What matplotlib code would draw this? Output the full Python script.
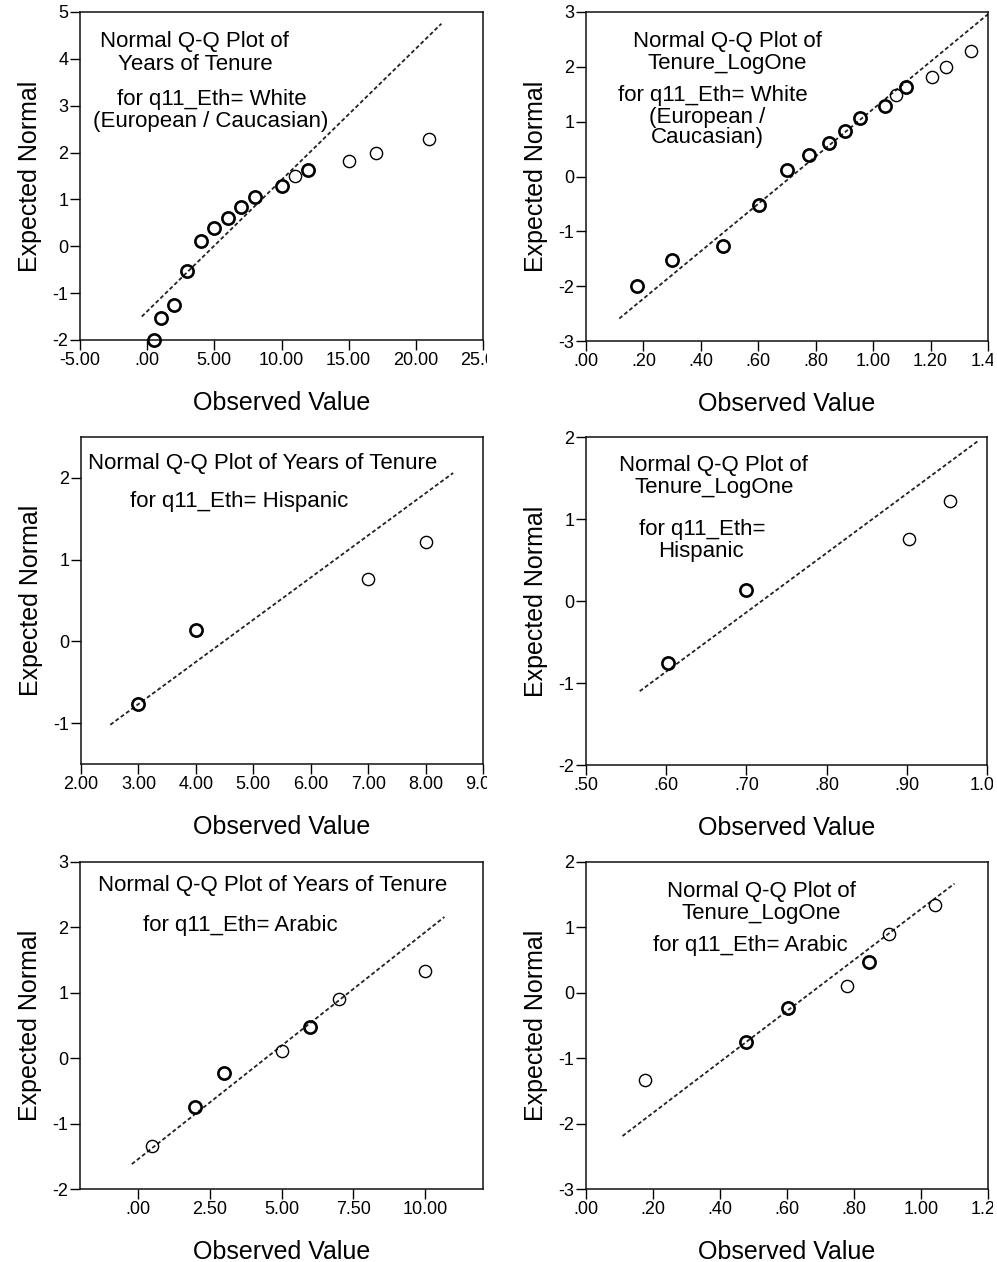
import numpy as np
import matplotlib as mpl
mpl.use('Agg')
from matplotlib import pyplot as plt
from matplotlib.ticker import MultipleLocator, FuncFormatter
from matplotlib.transforms import Bbox, TransformedBbox, IdentityTransform

plt.rcParams['font.family'] = ['Liberation Sans', 'DejaVu Sans']

# ---- data ----
# White (European / Caucasian)
white_years = [0.5, 1, 2, 3, 4, 5, 6, 7, 8, 10, 11, 12, 15, 17, 21]
white_log = [0.176, 0.301, 0.477, 0.602, 0.699, 0.778, 0.845, 0.903, 0.954,
             1.041, 1.079, 1.114, 1.204, 1.255, 1.342]
white_expected = [-2.0, -1.53, -1.26, -0.52, 0.11, 0.39, 0.61, 0.83, 1.06,
                  1.29, 1.49, 1.63, 1.82, 2.0, 2.28]
white_tied = [1, 1, 1, 1, 1, 1, 1, 1, 1, 1, 0, 1, 0, 0, 0]
white_years_line = ([-0.4, 21.9], [-1.5, 4.75])
white_log_line = ([0.116, 1.4], [-2.59, 2.96])

# Hispanic
hisp_years = [3, 4, 7, 8]
hisp_log = [0.602, 0.699, 0.903, 0.954]
hisp_expected = [-0.76, 0.14, 0.76, 1.22]
hisp_tied = [1, 1, 0, 0]
hisp_years_line = ([2.51, 8.48], [-1.02, 2.06])
hisp_log_line = ([0.567, 0.99], [-1.1, 1.96])

# Arabic
arab_years = [0.5, 2, 3, 5, 6, 7, 10]
arab_log = [0.176, 0.477, 0.602, 0.778, 0.845, 0.903, 1.041]
arab_expected = [-1.34, -0.75, -0.23, 0.11, 0.47, 0.90, 1.34]
arab_tied = [0, 1, 1, 0, 1, 0, 0]
arab_years_line = ([-0.2, 10.66], [-1.62, 2.16])
arab_log_line = ([0.109, 1.10], [-2.19, 1.67])

W, H = 997, 1262
fig = plt.figure(figsize=(W / 100, H / 100), dpi=100)


def spss_fmt(v, pos):
    v = round(v, 6)
    if abs(v) < 1e-9:
        v = 0.0
    s = '%.2f' % v
    if s.startswith('0.'):
        s = s[1:]
    elif s.startswith('-0.'):
        s = '-' + s[2:]
    return s


def make_axes(l, r, t, b):
    return fig.add_axes([l / W, 1 - b / H, (r - l) / W, (b - t) / H])


def qq_panel(box, x, y, tied, line, xlim, xstep, ylim, notes, clip_x):
    ax = make_axes(*box)
    ax.plot(line[0], line[1], color='#222222', lw=1.3, ls=(0, (2.2, 1.4)),
            zorder=2)
    for xi, yi, ti in zip(x, y, tied):
        ax.plot(xi, yi, 'o', mfc='none', mec='black', ms=8.8,
                mew=1.9 if ti else 1.0, zorder=3, clip_on=False)
    ax.set_xlim(*xlim)
    ax.set_ylim(*ylim)
    ticks = np.arange(np.ceil(xlim[0] / xstep - 1e-9) * xstep, xlim[1] + 1e-9, xstep)
    ax.set_xticks(ticks)
    ax.xaxis.set_major_formatter(FuncFormatter(spss_fmt))
    ax.yaxis.set_major_locator(MultipleLocator(1))
    ax.yaxis.set_major_formatter(FuncFormatter(lambda v, p: '%d' % round(v)))
    ax.tick_params(direction='out', length=7.2, width=1.0, labelsize=13,
                   colors='black')
    ax.tick_params(axis='x', pad=1.5)
    ax.tick_params(axis='y', pad=1)
    for sp in ax.spines.values():
        sp.set_linewidth(1.1)
        sp.set_color('#111111')
    ax.set_xlabel('Observed Value', fontsize=18, labelpad=16)
    ax.set_ylabel('Expected Normal', fontsize=18, labelpad=8)
    # SPSS panels were cut at their image edge
    last = ax.xaxis.get_major_ticks()[-1].label1
    last.set_clip_on(True)
    last.set_clip_box(TransformedBbox(Bbox([[0, 0], [clip_x, H]]),
                                      IdentityTransform()))
    for txt, cx, cy in notes:
        fig.text(cx / W, 1 - cy / H, txt, ha='center', va='center',
                 fontsize=16)
    return ax


qq_panel((80, 483, 12, 340), white_years, white_expected, white_tied,
         white_years_line, (-5, 25), 5, (-2, 5),
         [('Normal Q-Q Plot of', 194, 42), ('Years of Tenure', 195, 64),
          ('for q11_Eth= White', 212, 100), ('(European / Caucasian)', 211, 122)],
         487)
qq_panel((586, 988, 12, 341), white_log, white_expected, white_tied,
         white_log_line, (0, 1.4), 0.2, (-3, 3),
         [('Normal Q-Q Plot of', 727, 42), ('Tenure_LogOne', 727, 64),
          ('for q11_Eth= White', 713, 95), ('(European /', 707, 117),
          ('Caucasian)', 707, 138)],
         993)
qq_panel((81, 483, 437, 764), hisp_years, hisp_expected, hisp_tied,
         hisp_years_line, (2, 9), 1, (-1.5, 2.5),
         [('Normal Q-Q Plot of Years of Tenure', 263, 463),
          ('for q11_Eth= Hispanic', 239, 502)],
         487)
qq_panel((586, 987, 437, 765), hisp_log, hisp_expected, hisp_tied,
         hisp_log_line, (0.5, 1.0), 0.1, (-2, 2),
         [('Normal Q-Q Plot of', 713, 466), ('Tenure_LogOne', 714, 488),
          ('for q11_Eth=', 702, 529), ('Hispanic', 701, 552)],
         993)
qq_panel((80, 483, 862, 1189), arab_years, arab_expected, arab_tied,
         arab_years_line, (-2, 12), 2.5, (-2, 3),
         [('Normal Q-Q Plot of Years of Tenure', 273, 885),
          ('for q11_Eth= Arabic', 240, 926)],
         487)
qq_panel((586, 988, 862, 1189), arab_log, arab_expected, arab_tied,
         arab_log_line, (0, 1.2), 0.2, (-3, 2),
         [('Normal Q-Q Plot of', 761, 892), ('Tenure_LogOne', 761, 914),
          ('for q11_Eth= Arabic', 750, 945)],
         993)

fig.savefig('out.png', dpi=100)
